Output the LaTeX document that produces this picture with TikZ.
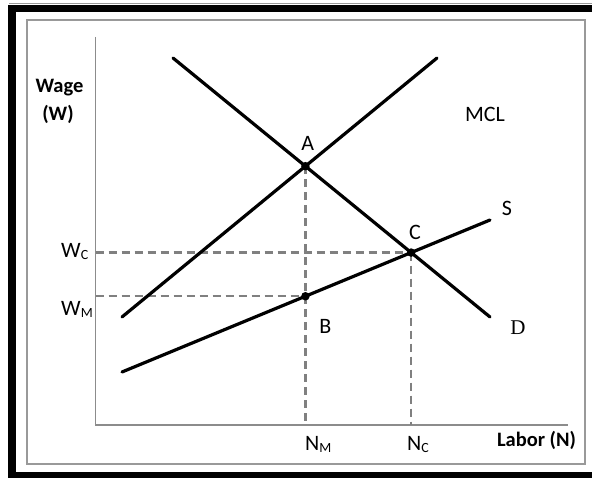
\documentclass[tikz,border=0pt]{standalone}
\usepackage{fontspec}
\setmainfont{Carlito}
\newfontfamily\serifD{Liberation Serif}
\newcommand{\sbs}[1]{\raisebox{-2.5pt}{\fontsize{14}{14}\selectfont #1}}
\begin{document}
\begin{tikzpicture}[x=1pt,y=-1pt,
  lbl/.style={inner sep=0pt,font=\fontsize{22}{26}\selectfont},
  blbl/.style={inner sep=0pt,font=\fontsize{20.5}{24}\selectfont\bfseries},
  curve/.style={line width=3.2pt,line cap=round,black},
  guide/.style={line width=2.2pt,draw=black!50,dash pattern=on 8pt off 5pt},
  axis/.style={line width=1.2pt,draw=black!45},
  dot/.style={circle,fill=black,inner sep=0pt,minimum size=8.5pt}]
\useasboundingbox (0,0) rectangle (592,478);
\fill[white] (0,0) rectangle (592,478);
% frame
\draw[line width=1pt,black!40] (9,4) -- (592,4);
\fill[black] (8,5) rectangle (592,12.5);
\fill[black] (8,5) rectangle (16,478);
\fill[black] (8,471.5) rectangle (592,478);
\draw[line width=2pt,black!40] (27,20) rectangle (585,464);
% coordinates
\coordinate (O) at (95.5,425);
\coordinate (ytop) at (95.5,37);
\coordinate (xend) at (568,425);
\coordinate (mcl1) at (122,317);
\coordinate (mcl2) at (437,58);
\coordinate (d1) at (173,58);
\coordinate (d2) at (490,317);
\coordinate (s1) at (122,372);
\coordinate (s2) at (490,220);
\coordinate (A) at (intersection of mcl1--mcl2 and d1--d2);
\coordinate (C) at (intersection of d1--d2 and s1--s2);
\coordinate (Ab) at (A |- O);
\coordinate (B) at (intersection of s1--s2 and A--Ab);
% axes
\draw[axis] (ytop) -- (O) -- (xend);
% guides
\draw[guide] (O |- C) -- (C);
\draw[guide] (O |- B) -- (B);
\draw[guide] (A) -- (Ab);
\draw[guide] (C) -- (C |- O);
% curves
\draw[curve] (mcl1) -- (mcl2);
\draw[curve] (d1) -- (d2);
\draw[curve] (s1) -- (s2);
\node[dot] (pA) at (A) {};
\node[dot] (pB) at (B) {};
\node[dot] (pC) at (C) {};
% labels
\node[blbl] (wage) at (59.5,88) {Wage};
\node[blbl] (wsym) at (58,114) {(W)};
\node[lbl] (mcl) at (485,114) {MCL};
\node[lbl] (la) at (307.7,143) {A};
\node[lbl] (lb) at (325.4,326) {B};
\node[lbl] (lc) at (415,232) {C};
\node[lbl] (ls) at (507,208) {S};
\node[lbl,font=\fontsize{21}{24}\selectfont\serifD] (ld) at (518,328) {D};
\node[lbl,anchor=base west] (wc) at (61,257.5) {W\sbs{C}};
\node[lbl,anchor=base west] (wm) at (61,315.5) {W\sbs{M}};
\node[lbl,anchor=base west] (nm) at (305,450) {N\sbs{M}};
\node[lbl,anchor=base west] (nc) at (407,450) {N\sbs{C}};
\node[blbl] (labor) at (536.5,440) {Labor (N)};
\end{tikzpicture}
\end{document}
